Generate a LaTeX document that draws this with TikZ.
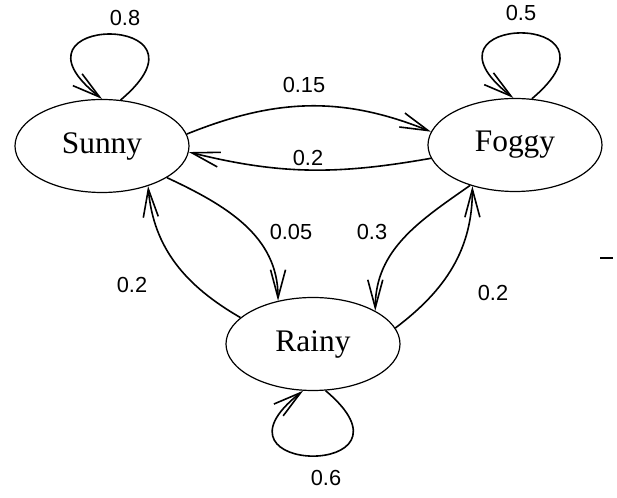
\documentclass[tikz,border=0pt]{standalone}
\usepackage{fontspec}
\setmainfont{Liberation Serif}
\newfontfamily\probfont{Liberation Sans}
\usepackage{tikz}
\usetikzlibrary{arrows.meta, shapes.geometric}

\begin{document}
\begin{tikzpicture}[x=0.5pt, y=0.5pt, >={Straight Barb[length=14pt,width=7.5pt]}, line width=0.8pt,
  state/.style={ellipse, draw, line width=0.6pt, inner sep=0pt, minimum width=87pt, minimum height=46.5pt,
                font=\fontsize{15.7}{18}\selectfont},
  prob/.style={inner sep=0pt, font=\probfont\fontsize{10.9}{13}\selectfont}]
  \useasboundingbox (0,0) rectangle (617,498);
  \node[state] (sunny) at (102,352) {Sunny};
  \node[state] (foggy) at (515,353) {Foggy};
  \node[state] (rainy) at (313,154) {Rainy};
  \draw[->] (sunny.68) .. controls +(40:138) and +(142:138) .. (sunny.90);
  \draw[->] (foggy.70) .. controls +(40:138) and +(142:138) .. (foggy.92);
  \draw[->] (rainy.-75) .. controls +(-40:138) and +(-142:138) .. (rainy.-102);
  \draw[->] (sunny.8) to[out=22,in=158] (foggy.171);
  \draw[->] (foggy.189) to[out=190,in=346] (sunny.356);
  \draw[->] (sunny.-26) to[out=-25,in=90] (rainy.129);
  \draw[->] (rainy.160) to[out=150,in=275] (sunny.319);
  \draw[->] (foggy.222) to[out=215,in=90] (rainy.28);
  \draw[->] (rainy.11) to[out=37,in=270] (foggy.224);
  \node[prob] (pss) at (125,480) {0.8};
  \node[prob] (pff) at (521,485) {0.5};
  \node[prob] (prr) at (326,20) {0.6};
  \node[prob] (psf) at (304,413) {0.15};
  \node[prob] (pfs) at (308,340) {0.2};
  \node[prob] (psr) at (291,266) {0.05};
  \node[prob] (pfr) at (372,266) {0.3};
  \node[prob] (prs) at (132,213) {0.2};
  \node[prob] (prf) at (493,205) {0.2};
  \draw (600,240) -- (613,240);
\end{tikzpicture}
\end{document}
